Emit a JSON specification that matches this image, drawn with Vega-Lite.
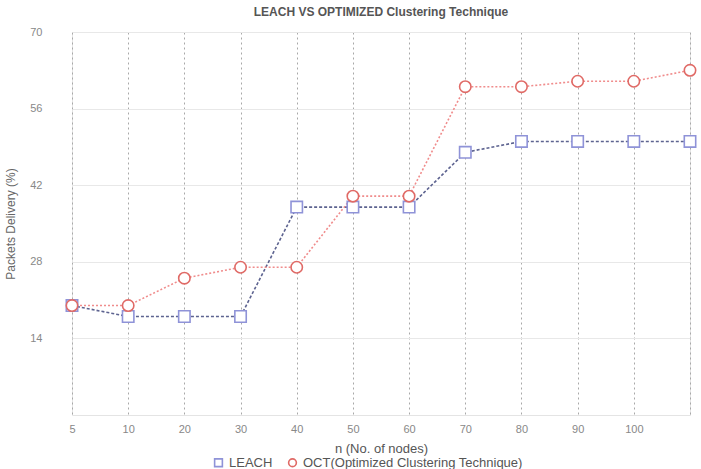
{
  "$schema": "https://vega.github.io/schema/vega-lite/v6.json",
  "width": 618,
  "height": 383,
  "padding": {"left": 4, "top": 6, "right": 5, "bottom": 5},
  "background": "white",
  "config": {
    "font": "Liberation Sans",
    "view": {"stroke": "#e4e4e4", "strokeWidth": 1}
  },
  "title": {
    "text": "LEACH VS OPTIMIZED Clustering Technique",
    "fontSize": 12,
    "fontWeight": "bold",
    "color": "#555555",
    "offset": 7
  },
  "data": {
    "values": [
      {"n": "5", "series": "LEACH", "pdr": 20},
      {"n": "10", "series": "LEACH", "pdr": 18},
      {"n": "20", "series": "LEACH", "pdr": 18},
      {"n": "30", "series": "LEACH", "pdr": 18},
      {"n": "40", "series": "LEACH", "pdr": 38},
      {"n": "50", "series": "LEACH", "pdr": 38},
      {"n": "60", "series": "LEACH", "pdr": 38},
      {"n": "70", "series": "LEACH", "pdr": 48},
      {"n": "80", "series": "LEACH", "pdr": 50},
      {"n": "90", "series": "LEACH", "pdr": 50},
      {"n": "100", "series": "LEACH", "pdr": 50},
      {"n": "110", "series": "LEACH", "pdr": 50},
      {"n": "5", "series": "OCT(Optimized Clustering Technique)", "pdr": 20},
      {"n": "10", "series": "OCT(Optimized Clustering Technique)", "pdr": 20},
      {"n": "20", "series": "OCT(Optimized Clustering Technique)", "pdr": 25},
      {"n": "30", "series": "OCT(Optimized Clustering Technique)", "pdr": 27},
      {"n": "40", "series": "OCT(Optimized Clustering Technique)", "pdr": 27},
      {"n": "50", "series": "OCT(Optimized Clustering Technique)", "pdr": 40},
      {"n": "60", "series": "OCT(Optimized Clustering Technique)", "pdr": 40},
      {"n": "70", "series": "OCT(Optimized Clustering Technique)", "pdr": 60},
      {"n": "80", "series": "OCT(Optimized Clustering Technique)", "pdr": 60},
      {"n": "90", "series": "OCT(Optimized Clustering Technique)", "pdr": 61},
      {"n": "100", "series": "OCT(Optimized Clustering Technique)", "pdr": 61},
      {"n": "110", "series": "OCT(Optimized Clustering Technique)", "pdr": 63}
    ]
  },
  "encoding": {
    "x": {
      "field": "n",
      "type": "ordinal",
      "sort": null,
      "scale": {"type": "point", "padding": 0},
      "title": "n (No. of nodes)",
      "axis": {
        "labelAngle": 0,
        "labelExpr": "datum.value == '110' ? '' : datum.value",
        "labelColor": "#888888",
        "labelFontSize": 11,
        "labelPadding": 8,
        "titleColor": "#555555",
        "titleFontSize": 13,
        "titleFontWeight": "normal",
        "titlePadding": 8,
        "ticks": false,
        "domain": false,
        "grid": true,
        "gridColor": "#a8a8a8",
        "gridDash": [2, 3],
        "gridWidth": 1
      }
    },
    "y": {
      "field": "pdr",
      "type": "quantitative",
      "scale": {"domain": [0, 70], "nice": false},
      "title": "Packets Delivery (%)",
      "axis": {
        "values": [14, 28, 42, 56, 70],
        "labelColor": "#888888",
        "labelFontSize": 11,
        "labelPadding": 30,
        "titleColor": "#666666",
        "titleFontSize": 12,
        "titleFontWeight": "normal",
        "titlePadding": 12,
        "ticks": false,
        "domain": false,
        "gridColor": "#e8e8e8",
        "gridWidth": 1
      }
    }
  },
  "layer": [
    {
      "transform": [{"filter": "datum.series == 'LEACH'"}],
      "mark": {"type": "line", "strokeWidth": 1.6, "stroke": "#5d6390", "strokeDash": [3, 2]},
      "encoding": {}
    },
    {
      "transform": [{"filter": "datum.series != 'LEACH'"}],
      "mark": {"type": "line", "strokeWidth": 1.6, "stroke": "#f08c8c", "strokeDash": [2, 2]},
      "encoding": {}
    },
    {
      "mark": {"type": "point", "filled": false, "fill": "white", "fillOpacity": 1, "strokeWidth": 1.6, "opacity": 1},
      "encoding": {
        "color": {
          "field": "series",
          "type": "nominal",
          "scale": {
            "domain": ["LEACH", "OCT(Optimized Clustering Technique)"],
            "range": ["#8f93d8", "#e06a66"]
          },
          "legend": {
            "orient": "none",
            "legendX": 140,
            "legendY": 424,
            "title": null,
            "direction": "horizontal",
            "labelColor": "#555555",
            "labelFontSize": 13,
            "labelLimit": 400,
            "symbolSize": 60,
            "symbolStrokeWidth": 1.6,
            "columnPadding": 12
          }
        },
        "shape": {
          "field": "series",
          "type": "nominal",
          "scale": {
            "domain": ["LEACH", "OCT(Optimized Clustering Technique)"],
            "range": ["square", "circle"]
          }
        },
        "size": {"value": 130}
      }
    }
  ]
}
